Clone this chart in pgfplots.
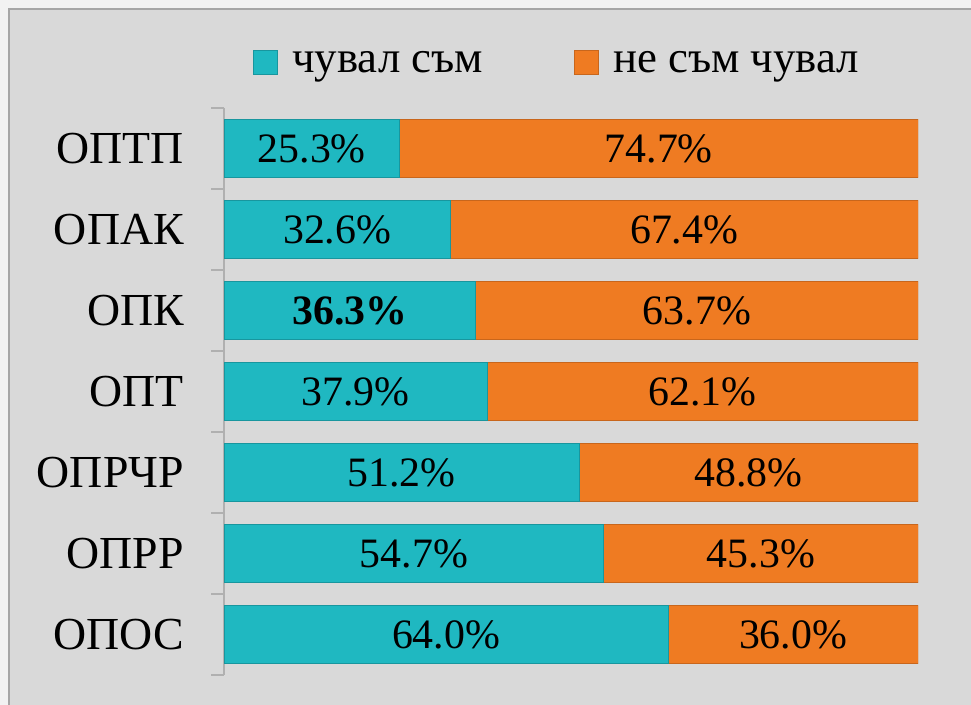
\documentclass[border=0pt]{standalone}
\usepackage{pgfplots}
\pgfplotsset{compat=1.18}
\usepackage{pgfplotstable}
\usepackage{fontspec}
\setmainfont{Liberation Serif}
\definecolor{heardcol}{RGB}{31,184,193}
\definecolor{heardedge}{RGB}{24,150,158}
\definecolor{notcol}{RGB}{239,123,34}
\definecolor{notedge}{RGB}{200,102,28}
\definecolor{bgcol}{RGB}{217,217,217}
\definecolor{outercol}{RGB}{242,242,242}
\definecolor{framecol}{RGB}{166,166,166}
\definecolor{axcol}{RGB}{176,176,176}

\pgfplotstableread{
y heard not hl nl
0 25.3 74.7 {25.3\%} {74.7\%}
1 32.6 67.4 {32.6\%} {67.4\%}
2 36.3 63.7 {\textbf{36.3\%}} {63.7\%}
3 37.9 62.1 {37.9\%} {62.1\%}
4 51.2 48.8 {51.2\%} {48.8\%}
5 54.7 45.3 {54.7\%} {45.3\%}
6 64.0 36.0 {64.0\%} {36.0\%}
}\data

\begin{document}
\begin{tikzpicture}[x=1bp,y=1bp]
\path[use as bounding box] (0,0) rectangle (971,705);
\fill[outercol] (0,0) rectangle (971,705);
\fill[bgcol] (9,-5) rectangle (980,696);
\draw[framecol, line width=2bp] (9,-5) -- (9,696) -- (980,696);

\begin{axis}[
    at={(224bp,30bp)}, anchor=south west,
    scale only axis, width=694bp, height=567bp,
    xbar stacked, bar width=58bp,
    xmin=0, xmax=100,
    ymin=-0.5, ymax=6.5, y dir=reverse,
    hide x axis,
    axis y line*=left,
    axis line style={axcol, line width=1.2bp},
    ytick={0,...,6},
    yticklabels={ОПТП, ОПАК, ОПК, ОПТ, ОПРЧР, ОПРР, ОПОС},
    yticklabel style={font=\fontsize{46}{50}\selectfont, anchor=east, inner sep=0pt, xshift=-40bp},
    major tick length=0pt,
    minor ytick={-0.5,0.5,...,6.5},
    minor tick length=13bp,
    tick align=outside,
    minor tick style={axcol, line width=1.2bp},
    legend image code/.code={\draw[#1] (0bp,-12bp) rectangle (24bp,12bp); \path (36bp,0bp);},
    legend style={at={(0.48,1.08)}, anchor=center, draw=none, fill=none,
        font=\fontsize{45}{50}\selectfont, legend columns=2,
        /tikz/every even column/.append style={column sep=89bp}},
]
\addplot[fill=heardcol, draw=heardedge, line width=1bp] table[x=heard, y=y] {\data};
\addlegendentry{чувал съм}
\addplot[fill=notcol, draw=notedge, line width=1bp] table[x=not, y=y] {\data};
\addlegendentry{не съм чувал}
\end{axis}

\begin{axis}[
    at={(224bp,30bp)}, anchor=south west,
    scale only axis, width=694bp, height=567bp,
    xmin=0, xmax=100,
    ymin=-0.5, ymax=6.5, y dir=reverse,
    hide axis,
    nodes near coords={\pgfplotspointmeta},
    every node near coord/.append style={anchor=center, inner sep=0pt,
        font=\fontsize{42}{46}\selectfont},
]
\addplot[draw=none, no marks, point meta=explicit symbolic]
    table[x expr=\thisrow{heard}/2, y=y, meta=hl] {\data};
\addplot[draw=none, no marks, point meta=explicit symbolic]
    table[x expr=\thisrow{heard}+\thisrow{not}/2, y=y, meta=nl] {\data};
\end{axis}
\end{tikzpicture}
\end{document}
